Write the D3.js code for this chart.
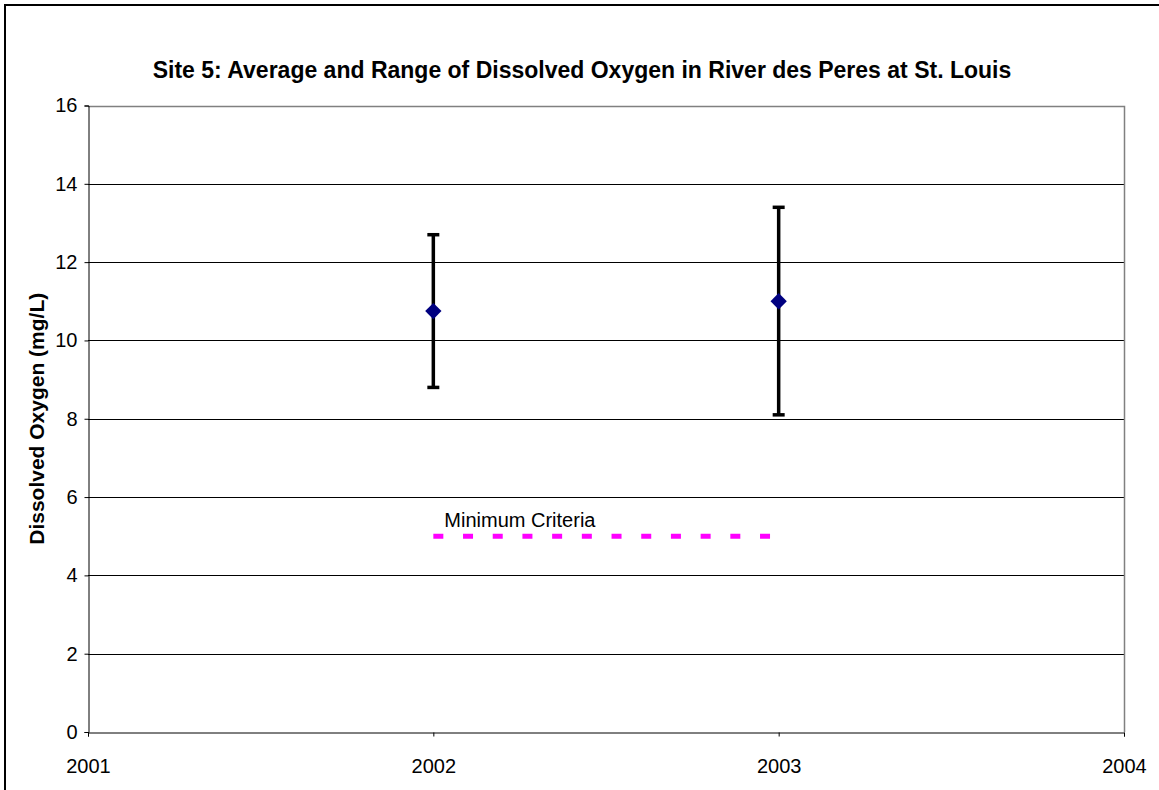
<!DOCTYPE html>
<html>
<head>
<meta charset="utf-8">
<script src="https://cdn.jsdelivr.net/npm/d3@7"></script>
<style>
  body { margin: 0; background: #fff; }
  text { font-family: "Liberation Sans", Arial, sans-serif; }
</style>
</head>
<body>
<script>
var years = [2002, 2003];
var avgDO = [10.75, 11.0];
var maxDO = [12.7, 13.4];
var minDO = [8.8, 8.1];
var yTicks = [0, 2, 4, 6, 8, 10, 12, 14, 16];
var xTicks = [2001, 2002, 2003, 2004];
var criteria = [{year: 2002, value: 5}, {year: 2003, value: 5}];

var w = 1159, h = 790;
var svg = d3.select('body').append('svg').attr('width', w).attr('height', h);

svg.append('rect').attr('width', w).attr('height', h).attr('fill', 'white');
// outer chart border
svg.append('rect')
   .attr('x', 5).attr('y', 5)
   .attr('width', w + 20).attr('height', h + 20)
   .attr('fill', 'none').attr('stroke', 'black').attr('stroke-width', 2);

var x = d3.scaleLinear().domain([2001, 2004]).range([88, 1124]);
var y = d3.scaleLinear().domain([0, 16]).range([732, 105.5]);

// gridlines
svg.append('g').selectAll('line').data(yTicks.slice(1)).enter().append('line')
   .attr('x1', x(2001)).attr('x2', x(2004))
   .attr('y1', function(d){ return Math.round(y(d)) + 0.5; })
   .attr('y2', function(d){ return Math.round(y(d)) + 0.5; })
   .attr('stroke', 'black').attr('stroke-width', 1);

// plot area border (right, top)
svg.append('path')
   .attr('d', 'M' + x(2001) + ',' + (Math.round(y(16)) + 0.5) + 'H' + (x(2004) + 0.5) + 'V' + y(0))
   .attr('fill', 'none').attr('stroke', '#808080').attr('stroke-width', 1.5);

var yAxis = d3.axisLeft(y).tickValues(yTicks).tickSize(4).tickPadding(7);
var gy = svg.append('g').attr('transform', 'translate(' + (x(2001) + 0.5) + ',0)').call(yAxis);
gy.selectAll('text').attr('font-size', 20).attr('fill', 'black').style('font-family', '"Liberation Sans", Arial, sans-serif');
gy.selectAll('line').attr('stroke', 'black');
gy.select('.domain').attr('stroke', 'black');

var xAxis = d3.axisBottom(x).tickValues(xTicks).tickFormat(d3.format('d')).tickSize(4).tickPadding(22);
var gx = svg.append('g').attr('transform', 'translate(0,' + (Math.round(y(0)) + 0.5) + ')').call(xAxis);
gx.selectAll('text').attr('font-size', 20).attr('fill', 'black').style('font-family', '"Liberation Sans", Arial, sans-serif');
gx.selectAll('line').attr('stroke', 'black');
gx.select('.domain').attr('stroke', 'black');

// minimum criteria line
var line = d3.line().x(function(d){ return x(d.year); }).y(function(d){ return y(d.value); });
svg.append('path').datum(criteria)
   .attr('d', line)
   .attr('fill', 'none')
   .attr('stroke', '#ff00ff')
   .attr('stroke-width', 5)
   .attr('stroke-dasharray', '10,19.7');
svg.append('text')
   .attr('x', x(2002) + 11).attr('y', 527)
   .attr('font-size', 20)
   .text('Minimum Criteria');

// error bars
var g = svg.append('g');
years.forEach(function(yr, i){
    var cx = x(yr);
    g.append('line')
     .attr('x1', cx).attr('x2', cx)
     .attr('y1', y(maxDO[i])).attr('y2', y(minDO[i]))
     .attr('stroke', 'black').attr('stroke-width', 3.5);
    [maxDO[i], minDO[i]].forEach(function(v){
        g.append('line')
         .attr('x1', cx - 6).attr('x2', cx + 6)
         .attr('y1', y(v)).attr('y2', y(v))
         .attr('stroke', 'black').attr('stroke-width', 3.5);
    });
});

// average markers
g.selectAll('path.pt').data(years).enter().append('path')
 .attr('class', 'pt')
 .attr('d', d3.symbol().type(d3.symbolDiamond2).size(170))
 .attr('transform', function(d, i){ return 'translate(' + x(d) + ',' + y(avgDO[i]) + ')'; })
 .attr('fill', '#000080');

// title
svg.append('text')
   .attr('x', 582).attr('y', 78)
   .attr('text-anchor', 'middle')
   .attr('font-size', 23).attr('font-weight', 'bold')
   .text('Site 5: Average and Range of Dissolved Oxygen in River des Peres at St. Louis');

// y axis label
svg.append('text')
   .attr('transform', 'translate(44,' + ((y(0) + y(16)) / 2) + ') rotate(-90)')
   .attr('text-anchor', 'middle')
   .attr('font-size', 21).attr('font-weight', 'bold')
   .text('Dissolved Oxygen (mg/L)');
</script>
</body>
</html>
